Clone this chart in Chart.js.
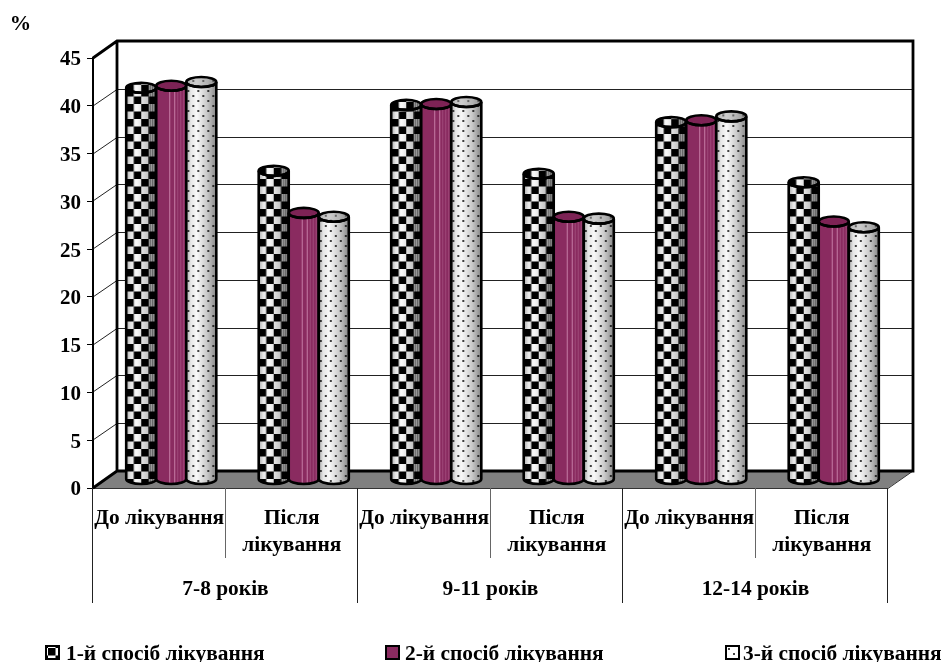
<!DOCTYPE html>
<html>
<head>
<meta charset="utf-8">
<title>Спосіб лікування</title>
<script src="https://cdn.jsdelivr.net/npm/chart.js@4"></script>
<style>
  html, body { margin: 0; padding: 0; background: #fff; }
  canvas { display: block; }
</style>
</head>
<body>
<canvas id="chart" width="947" height="662"></canvas>
<script>
const categories = [
  'До лікування', ['Після', 'лікування'],
  'До лікування', ['Після', 'лікування'],
  'До лікування', ['Після', 'лікування']
];
const ageGroups = ['7-8 років', '9-11 років', '12-14 років'];
const seriesNames = ['1-й спосіб лікування', '2-й спосіб лікування', '3-й спосіб лікування'];
const method1 = [41.0, 32.3, 39.2, 32.0, 37.4, 31.1];
const method2 = [41.2, 27.9, 39.3, 27.5, 37.6, 27.0];
const method3 = [41.6, 27.5, 39.5, 27.3, 38.0, 26.4];

const FONT = '"Liberation Serif", "Times New Roman", serif';
const DEPTH_X = 24;
const DEPTH_Y = 17;
const LEGEND_X = [46, 386, 726];
const LEGEND_TEXT_X = [66, 405, 743];

// --- Fill patterns ---
function makeTile(w, h, draw) {
  const c = document.createElement('canvas');
  c.width = w;
  c.height = h;
  draw(c.getContext('2d'));
  return c;
}

const checkerTile = makeTile(15, 15, g => {
  g.fillStyle = '#fff';
  g.fillRect(0, 0, 15, 15);
  g.fillStyle = '#000';
  g.fillRect(0, 0, 7.5, 7.5);
  g.fillRect(7.5, 7.5, 7.5, 7.5);
});

const dotsTile = makeTile(10, 10, g => {
  g.fillStyle = '#fff';
  g.fillRect(0, 0, 10, 10);
  g.fillStyle = '#444';
  g.fillRect(1, 1, 2, 2);
  g.fillRect(6, 6, 2, 2);
});

function patternAt(ctx, tile, x, y) {
  const p = ctx.createPattern(tile, 'repeat');
  p.setTransform(new DOMMatrix().translate(x, y));
  return p;
}

// --- Cylinder drawing ---
function shade(ctx, left, w) {
  const grad = ctx.createLinearGradient(left, 0, left + w, 0);
  grad.addColorStop(0, '#a8a8a8');
  grad.addColorStop(0.15, '#e6e6e6');
  grad.addColorStop(0.35, '#f8f8f8');
  grad.addColorStop(0.7, '#c8c8c8');
  grad.addColorStop(1, '#858585');
  return grad;
}

function bodyPath(ctx, left, right, top, bottom, ry) {
  const cx = (left + right) / 2;
  const rx = (right - left) / 2;
  ctx.beginPath();
  ctx.moveTo(left, top);
  ctx.lineTo(left, bottom);
  ctx.ellipse(cx, bottom, rx, ry, 0, Math.PI, 0, true);
  ctx.lineTo(right, top);
  ctx.ellipse(cx, top, rx, ry, 0, 0, Math.PI, false);
  ctx.closePath();
}

function fillBody(ctx, kind, left, w, top, bottom) {
  if (kind === 1) {
    ctx.fillStyle = '#8a2b60';
    ctx.fillRect(left, top - 6, w, bottom - top + 12);
    ctx.fillStyle = 'rgba(222,160,195,0.7)';
    ctx.fillRect(left + 13, top - 6, 1, bottom - top + 12);
    ctx.fillRect(left + 18, top - 6, 1, bottom - top + 12);
    ctx.fillStyle = 'rgba(200,130,170,0.35)';
    for (let i = 21; i < 29; i += 3) {
      ctx.fillRect(left + i, top - 6, 1, bottom - top + 12);
    }
    return;
  }
  ctx.fillStyle = patternAt(ctx, kind === 0 ? checkerTile : dotsTile, left, bottom);
  ctx.fillRect(left, top - 6, w, bottom - top + 12);
  ctx.globalCompositeOperation = 'multiply';
  ctx.fillStyle = shade(ctx, left, w);
  ctx.fillRect(left, top - 6, w, bottom - top + 12);
  ctx.globalCompositeOperation = 'source-over';
  if (kind === 0) {
    ctx.fillStyle = 'rgba(0,0,0,0.45)';
    for (let i = 22; i < 29; i += 2) {
      ctx.fillRect(left + i, top - 6, 1, bottom - top + 12);
    }
  }
}

function drawCylinder(ctx, kind, bar) {
  const left = bar.x - bar.width / 2 + DEPTH_X / 2;
  const right = left + bar.width;
  const top = bar.y - DEPTH_Y / 2;
  const bottom = bar.base - DEPTH_Y / 2;
  const ry = 5;
  const cx = (left + right) / 2;

  ctx.save();
  bodyPath(ctx, left, right, top, bottom, ry);
  ctx.save();
  ctx.clip();
  fillBody(ctx, kind, left, bar.width, top, bottom);
  ctx.restore();

  // cap
  ctx.beginPath();
  ctx.ellipse(cx, top, bar.width / 2, ry, 0, 0, Math.PI * 2);
  ctx.save();
  ctx.clip();
  fillBody(ctx, kind, left, bar.width, top, top + 12);
  if (kind === 1) {
    ctx.fillStyle = '#7d2355';
    ctx.fillRect(left, top - 6, bar.width, 12);
  } else if (kind === 2) {
    ctx.fillStyle = 'rgba(150,150,150,0.45)';
    ctx.fillRect(left, top - 6, bar.width, 12);
  }
  ctx.restore();

  ctx.lineWidth = 2.6;
  ctx.strokeStyle = '#000';
  bodyPath(ctx, left, right, top, bottom, ry);
  ctx.stroke();
  ctx.beginPath();
  ctx.ellipse(cx, top, bar.width / 2, ry, 0, 0, Math.PI * 2);
  ctx.stroke();
  ctx.restore();
}

const wallsPlugin = {
  id: 'walls',
  beforeDraw(chart) {
    const { ctx, chartArea: a, scales: { y } } = chart;
    ctx.save();
    ctx.fillStyle = '#fff';
    ctx.fillRect(0, 0, chart.width, chart.height);

    // floor
    ctx.fillStyle = '#808080';
    ctx.beginPath();
    ctx.moveTo(a.left, a.bottom);
    ctx.lineTo(a.left + DEPTH_X, a.bottom - DEPTH_Y);
    ctx.lineTo(a.right + DEPTH_X + 1, a.bottom - DEPTH_Y);
    ctx.lineTo(a.right, a.bottom);
    ctx.closePath();
    ctx.fill();

    // grid on the back and side walls
    ctx.lineWidth = 1;
    ctx.strokeStyle = '#222';
    y.ticks.forEach(t => {
      const py = Math.round(y.getPixelForValue(t.value));
      ctx.beginPath();
      ctx.moveTo(a.left, py);
      ctx.lineTo(a.left + DEPTH_X, py - DEPTH_Y + 0.5);
      if (t.value > 0 && t.value < 45) ctx.lineTo(a.right + DEPTH_X + 1, py - DEPTH_Y + 0.5);
      ctx.stroke();
    });

    // front and right edges of the floor
    ctx.strokeStyle = '#333';
    ctx.beginPath();
    ctx.moveTo(a.left, a.bottom + 0.5);
    ctx.lineTo(a.right, a.bottom + 0.5);
    ctx.lineTo(a.right + DEPTH_X + 1, a.bottom - DEPTH_Y);
    ctx.stroke();

    // heavy frame of the back wall
    ctx.lineWidth = 2.8;
    ctx.strokeStyle = '#000';
    ctx.beginPath();
    ctx.moveTo(a.left, a.top);
    ctx.lineTo(a.left + DEPTH_X, a.top - DEPTH_Y);
    ctx.lineTo(a.right + DEPTH_X + 1, a.top - DEPTH_Y);
    ctx.lineTo(a.right + DEPTH_X + 1, a.bottom - DEPTH_Y);
    ctx.lineTo(a.left + DEPTH_X, a.bottom - DEPTH_Y);
    ctx.lineTo(a.left + DEPTH_X, a.top - DEPTH_Y);
    ctx.moveTo(a.left + DEPTH_X, a.bottom - DEPTH_Y);
    ctx.lineTo(a.left, a.bottom);
    ctx.stroke();
    ctx.restore();
  }
};

const annotationsPlugin = {
  id: 'annotations',
  beforeDatasetDraw() {
    return false;
  },
  afterDatasetsDraw(chart) {
    const { ctx, chartArea: a, scales: { x } } = chart;

    chart.data.datasets.forEach((ds, i) => {
      chart.getDatasetMeta(i).data.forEach(bar => drawCylinder(ctx, i, bar));
    });

    // two-level separators under the axis
    const step = x.width / categories.length;
    ctx.save();
    ctx.lineWidth = 1;
    for (let i = 0; i <= categories.length; i++) {
      const px = Math.round(x.left + i * step) - 0.5;
      ctx.strokeStyle = i % 2 === 0 ? '#222' : '#666';
      ctx.beginPath();
      ctx.moveTo(px, a.bottom);
      ctx.lineTo(px, i % 2 === 0 ? 603 : 558);
      ctx.stroke();
    }

    ctx.fillStyle = '#000';
    ctx.textBaseline = 'middle';
    ctx.textAlign = 'center';
    ctx.font = 'bold 21.4px ' + FONT;
    ageGroups.forEach((g, i) => {
      ctx.fillText(g, x.left + (i * 2 + 1) * step, 589);
    });

    ctx.fillText('%', 20.5, 24);

    // legend
    ctx.textAlign = 'left';
    seriesNames.forEach((name, i) => {
      const bx = LEGEND_X[i];
      if (i === 0) {
        ctx.fillStyle = patternAt(ctx, checkerTile, bx + 2, 648);
      } else if (i === 1) {
        ctx.fillStyle = '#8a2b60';
      } else {
        ctx.fillStyle = patternAt(ctx, dotsTile, bx + 1, 647);
      }
      ctx.fillRect(bx, 646, 13, 13);
      ctx.lineWidth = 2;
      ctx.strokeStyle = '#000';
      ctx.strokeRect(bx, 646, 13, 13);
      ctx.fillStyle = '#000';
      ctx.fillText(name, LEGEND_TEXT_X[i], 654);
    });
    ctx.restore();
  }
};

function barDataset(label, data, color) {
  return { label, data, backgroundColor: color, borderWidth: 0 };
}

new Chart(document.getElementById('chart'), {
  type: 'bar',
  data: {
    labels: categories,
    datasets: [
      barDataset(seriesNames[0], method1, '#000000'),
      barDataset(seriesNames[1], method2, '#8a2b60'),
      barDataset(seriesNames[2], method3, '#d0d0d0')
    ]
  },
  options: {
    responsive: false,
    animation: false,
    layout: { padding: { top: 58, right: 59, left: 0, bottom: 0 } },
    datasets: { bar: { categoryPercentage: 0.68, barPercentage: 1 } },
    plugins: { legend: { display: false }, tooltip: { enabled: false } },
    scales: {
      x: {
        afterFit(scale) { scale.height = 174; },
        border: { display: false },
        grid: { display: false },
        ticks: {
          autoSkip: false,
          maxRotation: 0,
          minRotation: 0,
          padding: 9,
          color: '#000',
          font: { family: FONT, size: 21.4, weight: 'bold', lineHeight: 1.27 }
        }
      },
      y: {
        min: 0,
        max: 45,
        afterFit(scale) { scale.width = 93; },
        border: { display: true, color: '#000', width: 2 },
        grid: { drawOnChartArea: false, color: '#000', tickLength: 6 },
        ticks: {
          stepSize: 5,
          padding: 6,
          labelOffset: 2,
          color: '#000',
          font: { family: FONT, size: 21, weight: 'bold' }
        }
      }
    }
  },
  plugins: [wallsPlugin, annotationsPlugin]
});
</script>
</body>
</html>
